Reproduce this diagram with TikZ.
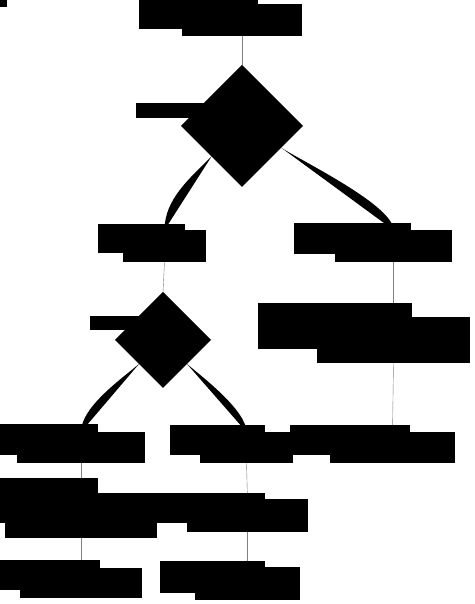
\documentclass[tikz,border=0pt]{standalone}
\usepackage{amsmath}
\usepackage{tikz}
\usetikzlibrary{shapes.geometric,backgrounds}

\tikzset{
  blk/.style={fill=black,inner sep=0pt,outer sep=0pt},
  dia/.style={diamond,aspect=1,fill=black,inner sep=0pt,outer sep=0pt},
  link/.style={draw=gray,line width=0.4pt},
  wedge/.style={fill=black}
}

\begin{document}
\begin{tikzpicture}[x=1pt,y=1pt]
	\useasboundingbox (0,0) rectangle (474,604);
	\node[blk,minimum width=7,minimum height=7] (mark) at (3.5,600.5) {};
	% top block
	\node[blk,minimum width=119,minimum height=29] (n1a) at (198.5,589.5) {};
	\node[blk,minimum width=120,minimum height=32] (n1) at (242,584) {};
	% first test
	\node[blk,minimum width=79,minimum height=15] (t1) at (175.5,493.5) {};
	\node[dia,minimum width=122,minimum height=122] (d1) at (242,478) {};
	\node[blk,minimum width=87,minimum height=29] (n2a) at (141.5,365.5) {};
	\node[blk,minimum width=83,minimum height=32] (n2) at (164.5,358) {};
	\node[blk,minimum width=117,minimum height=31] (n3a) at (352.5,365.5) {};
	\node[blk,minimum width=117,minimum height=32] (n3) at (393.5,358) {};
	% second test
	\node[blk,minimum width=60,minimum height=14] (t2) at (120,281) {};
	\node[dia,minimum width=96,minimum height=96] (d2) at (163,264) {};
	\node[blk,minimum width=154,minimum height=46] (n6a) at (335,278) {};
	\node[blk,minimum width=153,minimum height=46] (n6) at (393.5,264) {};
	\node[blk,minimum width=98,minimum height=31] (n4a) at (49,164.5) {};
	\node[blk,minimum width=128,minimum height=31] (n4) at (81,156.5) {};
	\node[blk,minimum width=95,minimum height=30] (n5a) at (217.5,164) {};
	\node[blk,minimum width=93,minimum height=31] (n5) at (246.5,156.5) {};
	\node[blk,minimum width=120,minimum height=30] (n7a) at (350,164) {};
	\node[blk,minimum width=125,minimum height=31] (n7) at (392.5,156.5) {};
	% bottom rows
	\node[blk,minimum width=98,minimum height=45] (n8a) at (49,103.5) {};
	\node[blk,minimum width=152,minimum height=45] (n8) at (81,88.5) {};
	\node[blk,minimum width=115,minimum height=30] (n9a) at (207.5,96) {};
	\node[blk,minimum width=121,minimum height=33] (n9) at (247.5,88.5) {};
	\node[blk,minimum width=100,minimum height=30] (n10a) at (50,29) {};
	\node[blk,minimum width=122,minimum height=30] (n10) at (81,21) {};
	\node[blk,minimum width=105,minimum height=32] (n11a) at (212.5,27) {};
	\node[blk,minimum width=105,minimum height=33] (n11) at (247.5,20.5) {};
	% connectors
	\begin{scope}[on background layer]
		\draw[link] (n1.south) -- (d1.north);
		\draw[link] (n2.south) -- (d2.north);
		\draw[link] (n3.south) -- (n6.north);
		\draw[link] (n6.south) -- (n7.north);
		\draw[link] (n4.south) -- (n8.north);
		\draw[link] (n8.south) -- (n10.north);
		\draw[link] (n5.south) -- (n9.north);
		\draw[link] (n9.south) -- (n11.north);
		\fill[wedge] (d1.south west) to[out=225,in=90,looseness=0.9] (n2.north) -- cycle;
		\fill[wedge] (d1.-29) to[out=-33,in=90,looseness=0.45] (n3.north) -- cycle;
		\fill[wedge] (d2.south west) to[out=220,in=90,looseness=0.7] (n4.north) -- cycle;
		\fill[wedge] (d2.south east) to[out=-40,in=90,looseness=0.6] (n5.north) -- cycle;
	\end{scope}
\end{tikzpicture}
\end{document}
